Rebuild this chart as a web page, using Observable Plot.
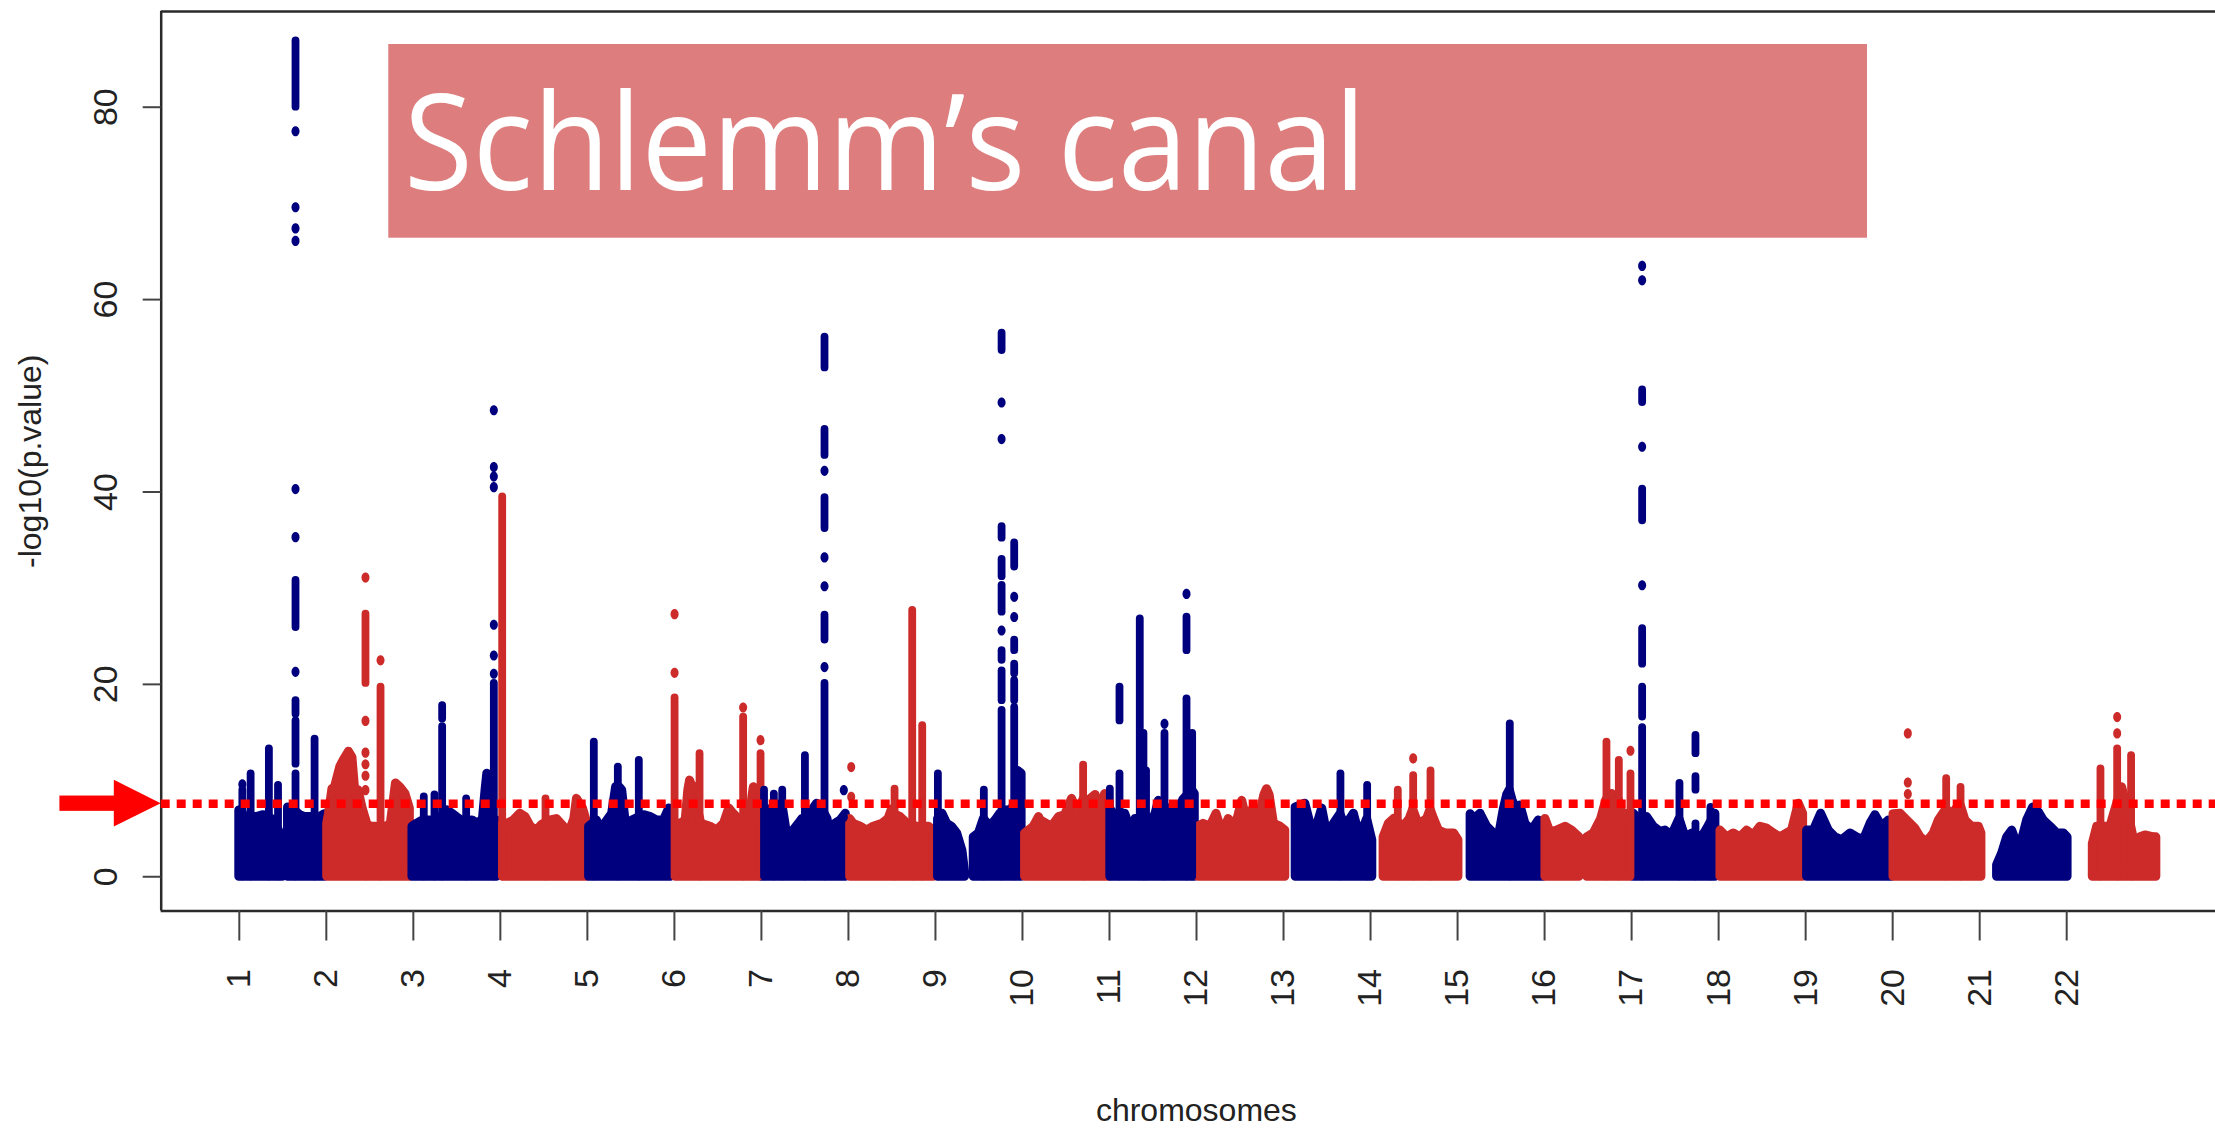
<!DOCTYPE html>
<html>
<head>
<meta charset="utf-8">
<script src="https://cdn.jsdelivr.net/npm/d3@7"></script>
<script src="https://cdn.jsdelivr.net/npm/@observablehq/plot@0.6"></script>
<style>
  html, body { margin: 0; padding: 0; background: #fff; overflow: hidden; }
</style>
</head>
<body>
<div id="chart"></div>
<script>
// ---------- data ----------
const chromosomeTicks = [1,2,3,4,5,6,7,8,9,10,11,12,13,14,15,16,17,18,19,20,21,22];
const yTicks = [0, 20, 40, 60, 80];
const threshold = 7.6;
const chartTitle = "Schlemm’s canal";
const xTitle = "chromosomes";
const yTitle = "-log10(p.value)";

// dense background of SNPs: [chromosome, [[genome position, upper envelope -log10 p], ...]]
const massBlocks = [
  [1, [[1.0,6.9],[1.04,6.6],[1.07,6.2],[1.2,6.2],[1.28,6.4],[1.4,5.9],[1.47,4.5],[1.5,1.7]]],
  [1, [[1.56,7.2],[1.61,7.1],[1.7,6.4],[1.76,6.2],[1.82,6.2],[1.93,6.2],[1.98,6.5]]],
  [2, [[2.01,5.5],[2.03,6.5],[2.07,9.1],[2.1,9.3],[2.16,11.4],[2.2,12.1],[2.26,13.0],[2.3,12.4],[2.335,8.6],[2.37,9.0],[2.42,7.0],[2.47,5.5],[2.51,5.2],[2.57,5.2],[2.65,5.0],[2.68,5.2],[2.74,5.4],[2.8,9.7],[2.85,9.3],[2.91,8.6],[2.96,7.1]]],
  [3, [[2.99,5.2],[3.04,5.5],[3.1,5.8],[3.18,5.85],[3.28,5.8],[3.39,6.9],[3.45,6.55],[3.5,6.2],[3.56,5.8],[3.68,5.85],[3.75,5.5],[3.8,6.0],[3.83,9.0],[3.85,10.7],[3.87,9.0],[3.9,6.0],[3.96,5.85]]],
  [4, [[4.03,5.5],[4.08,5.5],[4.155,5.85],[4.23,6.55],[4.29,6.2],[4.35,5.2],[4.42,4.8],[4.48,5.4],[4.58,5.85],[4.65,6.0],[4.73,5.2],[4.79,4.5],[4.85,6.0],[4.88,8.1],[4.92,7.5],[4.95,7.1],[4.99,5.85]]],
  [5, [[5.02,5.2],[5.11,5.85],[5.15,4.8],[5.23,5.85],[5.285,6.55],[5.33,9.3],[5.37,9.3],[5.4,9.0],[5.45,4.8],[5.515,5.85],[5.65,6.4],[5.73,6.2],[5.8,5.85],[5.88,5.85],[5.94,7.1],[5.96,6.5]]],
  [6, [[6.02,5.5],[6.07,5.5],[6.13,5.85],[6.16,9.0],[6.18,10.0],[6.2,9.5],[6.24,9.3],[6.27,7.0],[6.31,5.5],[6.415,5.2],[6.49,4.8],[6.57,5.5],[6.63,7.1],[6.68,6.55],[6.74,6.0],[6.86,5.5],[6.9,8.5],[6.913,9.3],[6.94,7.0],[6.98,6.0]]],
  [7, [[7.01,6.5],[7.05,7.0],[7.1,7.0],[7.2,7.5],[7.25,7.0],[7.3,4.1],[7.37,4.8],[7.43,5.5],[7.47,6.0],[7.53,6.0],[7.56,6.55],[7.64,7.6],[7.7,7.0],[7.76,6.0],[7.79,4.1],[7.85,5.5],[7.91,5.85],[7.97,6.55]]],
  [8, [[8.02,6.0],[8.06,5.5],[8.14,5.2],[8.215,4.8],[8.29,5.2],[8.39,5.5],[8.46,6.0],[8.5,7.0],[8.53,6.5],[8.6,6.2],[8.68,5.5],[8.79,5.2],[8.925,5.2],[8.98,4.8]]],
  [9, [[9.03,6.0],[9.08,6.55],[9.135,5.5],[9.19,5.2],[9.25,4.5],[9.31,2.7],[9.34,0.5]]],
  [9, [[9.44,4.1],[9.5,4.5],[9.556,6.0],[9.63,5.2],[9.69,5.85],[9.74,6.5],[9.8,6.9],[9.84,6.9],[9.88,7.0],[9.93,8.0],[9.95,11.0],[9.99,10.7]]],
  [10, [[10.03,4.5],[10.13,5.2],[10.19,6.2],[10.21,5.85],[10.28,5.5],[10.34,5.2],[10.42,6.2],[10.49,6.4],[10.57,8.1],[10.62,7.0],[10.66,7.0],[10.7,8.0],[10.76,7.9],[10.84,8.5],[10.9,6.9],[10.95,8.6],[10.98,6.5]]],
  [11, [[11.01,7.0],[11.05,6.55],[11.18,6.55],[11.26,4.5],[11.3,6.0],[11.45,6.0],[11.47,5.5],[11.53,6.55],[11.567,7.9],[11.6,7.5],[11.66,7.0],[11.72,7.2],[11.8,7.1],[11.85,8.0],[11.95,9.0],[11.98,8.6]]],
  [12, [[12.02,5.2],[12.08,5.5],[12.16,5.2],[12.23,6.55],[12.3,4.5],[12.37,6.0],[12.45,5.2],[12.525,7.9],[12.58,5.85],[12.66,7.2],[12.72,6.0],[12.78,8.5],[12.81,9.1],[12.84,8.5],[12.89,5.5],[12.965,5.2],[13.02,4.8]]],
  [13, [[13.14,7.2],[13.2,7.4],[13.25,7.6],[13.31,5.5],[13.37,4.8],[13.444,7.1],[13.5,4.5],[13.58,5.5],[13.654,6.5],[13.71,5.2],[13.808,6.55],[13.88,4.1],[13.961,6.0],[14.02,3.8]]],
  [14, [[14.15,4.1],[14.21,5.5],[14.27,6.0],[14.38,5.2],[14.45,6.0],[14.49,7.0],[14.53,6.0],[14.57,5.5],[14.65,6.0],[14.69,7.0],[14.73,6.0],[14.785,4.8],[14.86,4.5],[14.96,4.5],[15.01,3.8]]],
  [15, [[15.15,6.5],[15.2,6.0],[15.263,6.55],[15.34,5.2],[15.416,4.5],[15.474,4.1],[15.531,7.0],[15.57,8.5],[15.6,9.0],[15.63,8.0],[15.665,7.2],[15.723,7.4],[15.78,5.5],[15.857,4.8],[15.933,5.85],[15.983,5.5]]],
  [16, [[16.01,6.0],[16.067,4.6],[16.144,4.8],[16.24,5.2],[16.316,4.8],[16.4,4.1]]],
  [16, [[16.49,4.1],[16.565,4.5],[16.65,6.0],[16.711,8.0],[16.776,8.6],[16.82,7.0],[16.853,8.0],[16.9,6.5],[16.93,6.55],[16.99,6.0]]],
  [17, [[17.025,6.55],[17.08,6.0],[17.178,6.2],[17.255,5.2],[17.332,4.66],[17.389,4.8],[17.465,4.3],[17.55,6.0],[17.62,4.1],[17.7,4.5],[17.81,4.1],[17.87,5.0],[17.963,6.55]]],
  [18, [[18.021,4.8],[18.098,4.1],[18.174,4.5],[18.25,4.1],[18.327,4.8],[18.404,4.3],[18.48,5.2],[18.557,5.0],[18.634,4.5],[18.71,4.1],[18.787,4.5],[18.844,4.8],[18.921,7.6],[18.971,6.55]]],
  [19, [[19.017,4.8],[19.094,4.8],[19.178,6.55],[19.266,4.8],[19.343,4.1],[19.419,3.8],[19.515,4.5],[19.591,4.1],[19.668,3.8],[19.745,5.5],[19.802,6.4],[19.879,5.2],[19.955,5.85],[19.99,5.5]]],
  [20, [[20.01,6.5],[20.09,6.55],[20.167,5.85],[20.262,5.0],[20.32,4.1],[20.396,3.6],[20.473,4.5],[20.53,5.85],[20.615,7.0],[20.684,6.55],[20.78,7.5],[20.837,5.85],[20.914,5.2],[20.99,5.2],[21.02,4.5]]],
  [21, [[21.2,1.2],[21.258,2.4],[21.316,4.1],[21.373,4.8],[21.431,3.4],[21.488,3.8],[21.545,5.85],[21.615,7.2],[21.68,6.7],[21.737,5.85],[21.814,5.2],[21.89,4.5],[21.967,4.5],[22.01,4.1]]],
  [22, [[22.3,3.4],[22.35,5.2],[22.446,5.2],[22.503,5.2],[22.56,7.0],[22.637,9.3],[22.7,7.0],[22.79,3.1],[22.848,4.1],[22.905,4.3],[23.0,4.1],[23.03,4.1]]]
];

// continuous columns of stacked SNPs: [chromosome, position, low, high]
const peakRuns = [
  [1,1.035,0,9.0],[1,1.13,0,10.7],[1,1.34,0,13.3],[1,1.445,0,9.5],[1,1.865,0,14.3],
  [1,1.646,0,10.7],[1,1.646,11.7,16.2],[1,1.646,16.9,18.3],[1,1.646,25.9,30.8],[1,1.646,80.0,86.9],
  [2,2.45,0,6.0],[2,2.45,20.1,27.3],[2,2.623,0,19.7],
  [3,3.12,0,8.3],[3,3.243,0,8.5],[3,3.331,0,15.6],[3,3.331,16.4,17.8],[3,3.607,0,8.1],[3,3.925,0,20.1],
  [4,4.021,0,39.5],[4,4.519,0,8.1],
  [5,5.074,0,14.0],[5,5.35,0,11.4],[5,5.591,0,12.1],
  [6,6.002,0,18.6],[6,6.289,0,12.8],[6,6.79,0,16.6],[6,6.99,0,12.8],
  [7,7.03,0,9.0],[7,7.143,0,8.6],[7,7.239,0,9.0],[7,7.5,0,12.6],[7,7.725,0,20.1],[7,7.725,24.6,27.2],[7,7.725,36.2,39.4],[7,7.725,43.8,46.5],[7,7.725,52.9,56.1],
  [8,8.53,0,9.1],[8,8.733,0,27.7],[8,8.848,0,15.7],
  [9,9.028,0,10.7],[9,9.556,0,9.0],[9,9.76,0,17.3],[9,9.76,18.3,21.4],[9,9.76,22.5,23.5],[9,9.76,27.5,30.3],[9,9.76,31.2,33.0],[9,9.76,35.2,36.4],[9,9.76,54.7,56.5],
  [9,9.905,0,17.6],[9,9.905,18.3,20.4],[9,9.905,21.1,22.1],[9,9.905,23.5,24.6],[9,9.905,32.2,34.7],
  [10,10.697,0,11.6],
  [11,11.004,0,9.1],[11,11.115,0,10.7],[11,11.115,16.2,19.7],[11,11.348,0,26.8],[11,11.39,0,14.9],[11,11.42,0,11.0],[11,11.632,0,14.9],[11,11.885,0,18.5],[11,11.885,23.5,27.0],[11,11.95,0,14.9],
  [13,13.654,0,10.7],[13,13.961,0,9.5],
  [14,14.313,0,9.0],[14,14.49,0,10.5],[14,14.689,0,11.0],
  [15,15.6,0,15.9],
  [16,16.711,0,14.0],[16,16.853,0,12.1],[16,16.987,0,10.7],
  [17,17.121,0,15.5],[17,17.121,16.6,19.7],[17,17.121,22.1,25.8],[17,17.121,37.0,40.3],[17,17.121,49.3,50.6],[17,17.55,0,9.7],[17,17.734,0,5.5],[17,17.734,9.0,10.4],[17,17.734,12.8,14.7],[17,17.906,0,7.2],
  [20,20.615,0,10.2],[20,20.78,0,9.3],
  [22,22.388,0,11.2],[22,22.58,0,13.3],[22,22.74,0,12.6]
];

// isolated SNPs: [chromosome, position, -log10 p]
const peakDots = [
  [1,1.035,9.6],[1,1.646,21.3],[1,1.646,35.3],[1,1.646,40.3],[1,1.646,66.1],[1,1.646,67.4],[1,1.646,69.6],[1,1.646,77.5],
  [2,2.45,9.0],[2,2.45,10.5],[2,2.45,11.7],[2,2.45,12.9],[2,2.45,16.2],[2,2.45,31.1],[2,2.623,22.5],
  [3,3.925,21.1],[3,3.925,23.0],[3,3.925,26.2],[3,3.925,40.5],[3,3.925,41.6],[3,3.925,42.6],[3,3.925,48.5],
  [6,6.002,21.2],[6,6.002,27.3],[6,6.79,17.6],[6,6.99,14.2],
  [7,7.725,21.8],[7,7.725,30.2],[7,7.725,33.2],[7,7.725,42.2],[7,7.947,9.0],[7,7.947,6.2],
  [8,8.032,11.4],[8,8.032,8.3],
  [9,9.76,25.6],[9,9.76,45.5],[9,9.76,49.3],[9,9.905,27.0],[9,9.905,29.1],
  [11,11.632,15.9],[11,11.885,29.4],
  [14,14.49,12.3],
  [16,16.987,13.1],
  [17,17.121,30.3],[17,17.121,44.7],[17,17.121,62.0],[17,17.121,63.5],
  [20,20.174,14.9],[20,20.174,9.8],[20,20.174,8.6],
  [22,22.58,14.9],[22,22.58,16.6]
];

// axis extents (R pads the data range by 4%)
const xDomain = [0.1025, 23.71];
const yDomain = [-3.56, 89.95];

// ---------- drawing ----------
const NAVY = "#00007f", RED = "#cd2a2a", AXIS = "#2a2a2a";
const massRows = massBlocks.flatMap(([chr, pts], i) => pts.map(([pos, top]) => ({block: i, chr, pos, top})));
const runRows = peakRuns.map(([chr, pos, lo, hi]) => ({chr, pos, lo, hi}));
const dotRows = peakDots.map(([chr, pos, val]) => ({chr, pos, val}));
const parity = d => (d.chr % 2 ? "odd" : "even");

const ellipse = {
  draw(ctx, size) {
    const r = Math.sqrt(size / Math.PI), rx = r, ry = r * 1.27, k = 0.5523;
    ctx.moveTo(rx, 0);
    ctx.bezierCurveTo(rx, ry * k, rx * k, ry, 0, ry);
    ctx.bezierCurveTo(-rx * k, ry, -rx, ry * k, -rx, 0);
    ctx.bezierCurveTo(-rx, -ry * k, -rx * k, -ry, 0, -ry);
    ctx.bezierCurveTo(rx * k, -ry, rx, -ry * k, rx, 0);
    ctx.closePath();
  }
};

const plot = Plot.plot({
  width: 2215,
  height: 1131,
  marginLeft: 160.7,
  marginRight: 0,
  marginTop: 11,
  marginBottom: 220.5,
  style: {fontFamily: "'Liberation Sans', Arial, sans-serif", background: "#fff", color: "#222"},
  x: {domain: xDomain},
  y: {domain: yDomain},
  color: {domain: ["odd", "even"], range: [NAVY, RED]},
  marks: [
    Plot.areaY(massRows, {x: "pos", y: "top", z: "block", fill: parity, stroke: parity, strokeWidth: 9, strokeLinejoin: "round"}),
    Plot.ruleX(runRows, {x: "pos", y1: "lo", y2: "hi", stroke: parity, strokeWidth: 7.8, strokeLinecap: "round"}),
    Plot.dot(dotRows, {x: "pos", y: "val", fill: parity, r: 4, symbol: ellipse}),
    Plot.ruleX([xDomain[0]], {stroke: AXIS, strokeWidth: 2.5}),
    Plot.ruleY([yDomain[0], yDomain[1]], {stroke: AXIS, strokeWidth: 2.5}),
    Plot.axisX({ticks: chromosomeTicks, tickSize: 30, tickFormat: () => "", label: null, stroke: "#444", strokeWidth: 2}),
    Plot.axisY({ticks: yTicks, tickSize: 18, tickFormat: () => "", label: null, stroke: "#444", strokeWidth: 2}),
    Plot.text(chromosomeTicks, {x: d => d, text: d => String(d), frameAnchor: "bottom", dy: 58, rotate: -90,
      textAnchor: "end", lineAnchor: "middle", fontSize: 34, fill: "#222", ariaLabel: "xtick-label"}),
    Plot.text(yTicks, {y: d => d, text: d => String(d), frameAnchor: "left", dx: -55, rotate: -90,
      textAnchor: "middle", lineAnchor: "middle", fontSize: 34, fill: "#222", ariaLabel: "ytick-label"}),
    Plot.text([yTitle], {text: d => d, frameAnchor: "left", dx: -130, rotate: -90,
      textAnchor: "middle", lineAnchor: "middle", fontSize: 32, fill: "#222", ariaLabel: "ylabel"}),
    Plot.text([xTitle], {text: d => d, frameAnchor: "bottom", dx: 8, dy: 200,
      textAnchor: "middle", lineAnchor: "middle", fontSize: 32, fill: "#222", ariaLabel: "xlabel"}),
    Plot.ruleY([threshold], {stroke: "#ff0000", strokeWidth: 8.5, strokeDasharray: "9,7"})
  ]
});

// the original R graphic is stretched vertically; mimic that on the texts
function stretchText(svg, label, sx, sy) {
  svg.querySelectorAll(`g[aria-label="${label}"] text`).forEach(t => {
    let tr = t.getAttribute("transform") || "";
    const x = t.getAttribute("x"), y = t.getAttribute("y");
    const num = v => v != null && !/em$/.test(v);
    if (num(x) || num(y)) {
      tr = `translate(${num(x) ? x : 0},${num(y) ? y : 0}) ` + tr;
      if (num(x)) t.removeAttribute("x");
      if (num(y)) t.removeAttribute("y");
    }
    t.setAttribute("transform", `${tr} scale(${sx},${sy})`);
  });
}
stretchText(plot, "xtick-label", 1.3, 1);
stretchText(plot, "ytick-label", 1.3, 1);
stretchText(plot, "ylabel", 1.3, 1);
stretchText(plot, "xlabel", 1, 1.3);

// overlay annotations (title banner and arrow pointing at the significance line)
const svg = d3.select(plot);
const yc = plot.scale("y").apply(threshold);
const xAxisPx = plot.scale("x").apply(xDomain[0]);
const overlay = svg.append("g").attr("aria-label", "annotations");
overlay.append("rect").attr("x", 59.4).attr("y", yc - 7.6).attr("width", 56).attr("height", 15.3).attr("fill", "#ff0000");
overlay.append("path").attr("d", `M113.8,${yc - 23.4}L${xAxisPx},${yc}L113.8,${yc + 23.4}Z`).attr("fill", "#ff0000");
overlay.append("rect").attr("x", 388.3).attr("y", 44).attr("width", 1478.7).attr("height", 193.7).attr("fill", "#dd7d7d");
overlay.append("text").attr("x", 404).attr("y", 190).attr("fill", "#fff")
  .attr("text-anchor", "start")
  .attr("font-family", "'Open Sans', 'Noto Sans', sans-serif").attr("font-size", 134)
  .attr("textLength", 962).attr("lengthAdjust", "spacingAndGlyphs").text(chartTitle);

document.getElementById("chart").appendChild(plot);
</script>
</body>
</html>
